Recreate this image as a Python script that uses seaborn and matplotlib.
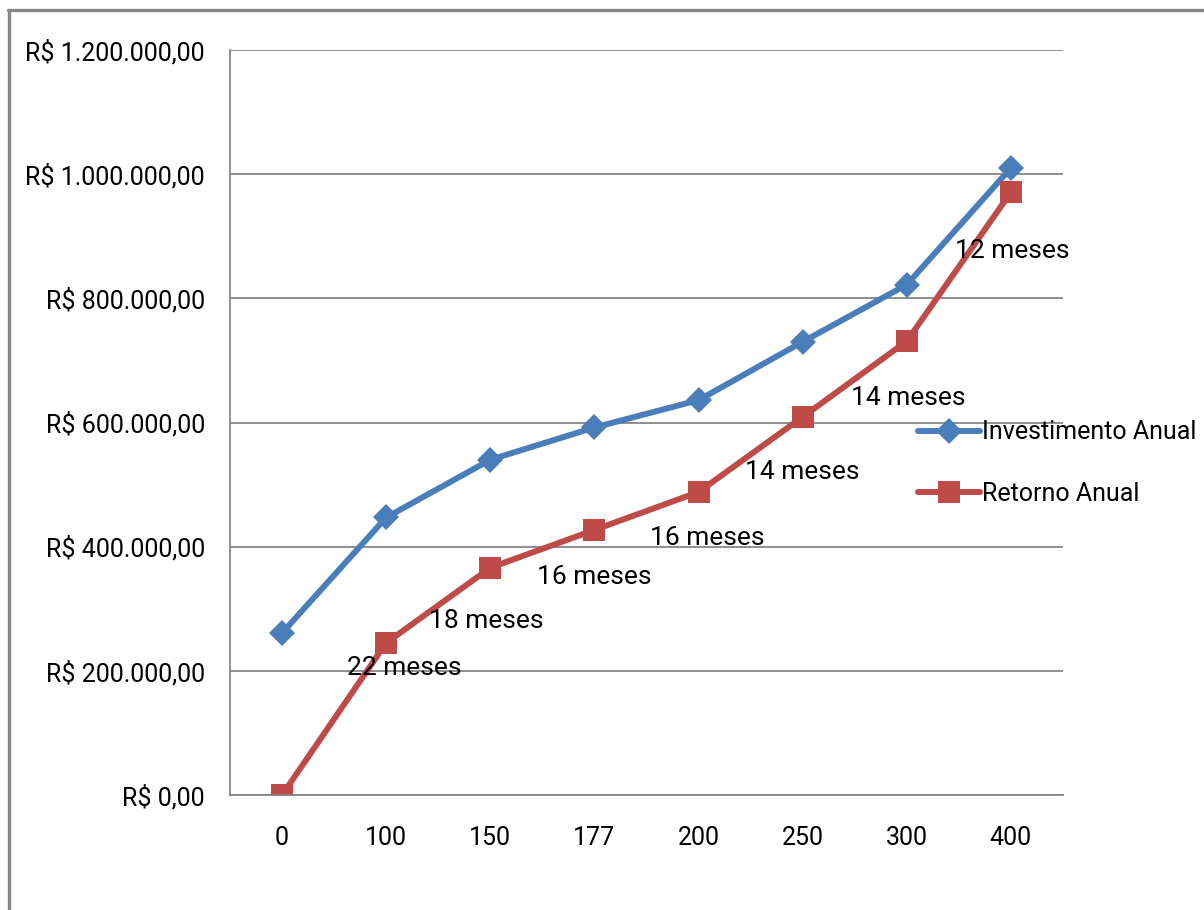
import matplotlib
matplotlib.use("Agg")
import matplotlib.pyplot as plt
import matplotlib.ticker as mticker
from matplotlib.lines import Line2D
import seaborn as sns
import pandas as pd

categorias = ["0", "100", "150", "177", "200", "250", "300", "400"]
investimento = [261000, 447000, 540000, 592000, 636000, 730000, 822000, 1010000]
retorno = [0, 245000, 366000, 427000, 488000, 609000, 731000, 971000]
rotulos = ["", "22 meses", "18 meses", "16 meses", "16 meses", "14 meses", "14 meses", "12 meses"]

azul = "#4A7EBB"
vermelho = "#BE4B48"
cinza = "#868686"

sns.set_theme(style="white")
plt.rcParams["font.family"] = ["Roboto", "DejaVu Sans"]
plt.rcParams["text.color"] = "black"
plt.rcParams["xtick.color"] = "black"
plt.rcParams["ytick.color"] = "black"
tam = 18

df = pd.DataFrame({
    "qtd": categorias * 2,
    "valor": investimento + retorno,
    "serie": ["Investimento Anual"] * 8 + ["Retorno Anual"] * 8,
})

fig = plt.figure(figsize=(12.04, 9.10), dpi=100)
ax = fig.add_axes([230 / 1204, 1 - 795 / 910, (1063 - 230) / 1204, (795 - 50) / 910])

sns.lineplot(data=df, x="qtd", y="valor", hue="serie", style="serie",
             markers={"Investimento Anual": "D", "Retorno Anual": "s"},
             dashes=False, palette=[azul, vermelho], linewidth=4.3,
             markeredgewidth=0, legend=False, ax=ax)
for line, ms in zip(ax.lines, [13, 16]):
    line.set_markersize(ms)

# rótulos de meses (posição ajustada à mão, em pixels)
desloc = [(0, 0), (18, -25), (-4, -53), (0, -47), (9, -46), (0, -55), (1, -57), (1, -59)]
for i, (txt, (dx, dy)) in enumerate(zip(rotulos, desloc)):
    if txt:
        ax.annotate(txt, (i, retorno[i]), xytext=(dx * 0.72, dy * 0.72),
                    textcoords="offset points", ha="center", va="center",
                    fontsize=tam + 1, color="black")

ax.set_xlim(-0.5, 7.5)
ax.set_ylim(0, 1200000)
ax.yaxis.set_major_locator(mticker.MultipleLocator(200000))


def reais(v, pos):
    if v == 0:
        return "R$ 0,00"
    return "R$ " + f"{v:,.0f}".replace(",", ".") + ",00"


ax.yaxis.set_major_formatter(mticker.FuncFormatter(reais))
ax.grid(axis="y", color=cinza, linewidth=1.3)
ax.set_axisbelow(True)
for s in ["top", "right"]:
    ax.spines[s].set_visible(False)
for s in ["left", "bottom"]:
    ax.spines[s].set_color(cinza)
    ax.spines[s].set_linewidth(1.3)

ax.set_xticks(range(8))
ax.set_xticklabels(categorias)
ax.set_xticks([i + 0.5 for i in range(-1, 8)], minor=True)
ax.tick_params(axis="x", which="major", length=0, pad=22, labelsize=tam)
ax.tick_params(axis="x", which="minor", length=9, width=1.3, color=cinza, direction="out")
ax.tick_params(axis="y", length=6, width=1.3, color=cinza, direction="out", pad=12, labelsize=tam)
ax.set_xlabel("")
ax.set_ylabel("")

handles = [
    Line2D([], [], color=azul, lw=4.3, marker="D", markersize=13, markeredgewidth=0),
    Line2D([], [], color=vermelho, lw=4.3, marker="s", markersize=16, markeredgewidth=0),
]
fig.legend(handles, ["Investimento Anual", "Retorno Anual"], loc="center left",
           bbox_to_anchor=(895 / 1204, 1 - 463 / 910), frameon=False,
           fontsize=tam, handlelength=2.5, handletextpad=0.1, labelspacing=1.5)

# moldura do gráfico: só bordas superior e esquerda aparecem
fig.add_artist(Line2D([8.5 / 1204, 8.5 / 1204], [0, 1 - 9.5 / 910],
                      transform=fig.transFigure, color=cinza, lw=2.4))
fig.add_artist(Line2D([7.5 / 1204, 1], [1 - 9.5 / 910, 1 - 9.5 / 910],
                      transform=fig.transFigure, color=cinza, lw=2.4))

fig.savefig("out.png", dpi=100)
